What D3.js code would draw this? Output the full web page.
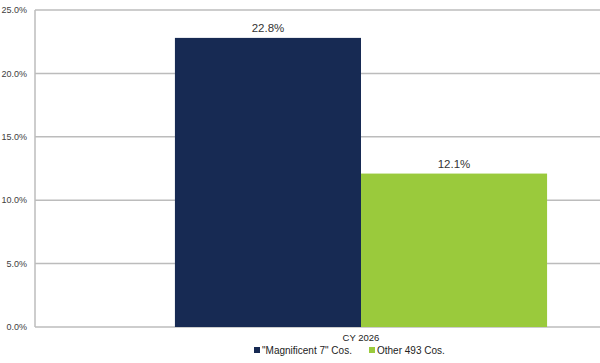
<!DOCTYPE html>
<html>
<head>
<meta charset="utf-8">
<script src="https://cdn.jsdelivr.net/npm/d3@7"></script>
<style>
  body { margin: 0; background: #fff; }
  svg { display: block; font-family: "Liberation Sans", Arial, sans-serif; }
</style>
</head>
<body>
<script>
// chart data
var categories = ["CY 2026"];
var seriesNames = ["\"Magnificent 7\" Cos.", "Other 493 Cos."];
var seriesColors = ["#172a53", "#9aca3c"];
var seriesValues = [[22.8], [12.1]];
var yTicks = [0, 5, 10, 15, 20, 25];

var width = 600, height = 363;
var margin = {top: 10, left: 35, bottom: 36};
var plotRight = 687;   // plot runs past the picture edge

var svg = d3.select("body").append("svg")
    .attr("width", width)
    .attr("height", height);

var y = d3.scaleLinear()
    .domain([0, 25])
    .range([height - margin.bottom, margin.top]);

var x0 = d3.scaleBand()
    .domain(categories)
    .range([margin.left, plotRight])
    .paddingInner(0)
    .paddingOuter(0.376);

var x1 = d3.scaleBand()
    .domain(seriesNames)
    .range([0, x0.bandwidth()]);

// gridlines
svg.append("g").selectAll("line")
    .data(yTicks)
  .enter().append("line")
    .attr("x1", margin.left)
    .attr("x2", plotRight)
    .attr("y1", function(d) { return y(d); })
    .attr("y2", function(d) { return y(d); })
    .style("stroke", "#bcbcbc")
    .style("stroke-width", 1.5);

// left axis line
svg.append("line")
    .attr("x1", margin.left).attr("x2", margin.left)
    .attr("y1", y(25)).attr("y2", y(0))
    .style("stroke", "#bcbcbc")
    .style("stroke-width", 1.5);

// tick labels
svg.append("g").selectAll("text")
    .data(yTicks)
  .enter().append("text")
    .attr("x", 27)
    .attr("y", function(d) { return y(d); })
    .attr("dy", "0.35em")
    .attr("text-anchor", "end")
    .style("font-size", "9px")
    .style("fill", "#404040")
    .text(function(d) { return d.toFixed(1) + "%"; });

// bars
var groups = svg.append("g").selectAll("g")
    .data(categories)
  .enter().append("g")
    .attr("transform", function(d) { return "translate(" + x0(d) + ",0)"; });

seriesNames.forEach(function(name, i) {
    groups.append("rect")
        .attr("x", x1(name))
        .attr("y", function(d, j) { return y(seriesValues[i][j]); })
        .attr("width", x1.bandwidth())
        .attr("height", function(d, j) { return y(0) - y(seriesValues[i][j]); })
        .style("fill", seriesColors[i]);

    groups.append("text")
        .attr("x", x1(name) + x1.bandwidth() / 2)
        .attr("y", function(d, j) { return y(seriesValues[i][j]) - 6; })
        .attr("text-anchor", "middle")
        .style("font-size", "11.5px")
        .style("fill", "#333")
        .text(function(d, j) { return seriesValues[i][j].toFixed(1) + "%"; });
});

// category label
svg.append("g").selectAll("text")
    .data(categories)
  .enter().append("text")
    .attr("x", function(d) { return x0(d) + x0.bandwidth() / 2; })
    .attr("y", y(0) + 14)
    .attr("text-anchor", "middle")
    .style("font-size", "9.5px")
    .style("fill", "#222")
    .text(function(d) { return d; });

// legend
var legendX = [254, 369];
var legend = svg.append("g").selectAll("g")
    .data(seriesNames)
  .enter().append("g")
    .attr("transform", function(d, i) { return "translate(" + legendX[i] + "," + 352 + ")"; });

legend.append("rect")
    .attr("x", 0).attr("y", -5)
    .attr("width", 6).attr("height", 6)
    .style("fill", function(d, i) { return seriesColors[i]; });

legend.append("text")
    .attr("x", 8)
    .attr("y", 0)
    .attr("dy", "0.15em")
    .style("font-size", "10px")
    .style("fill", "#222")
    .text(function(d) { return d; });
</script>
</body>
</html>
